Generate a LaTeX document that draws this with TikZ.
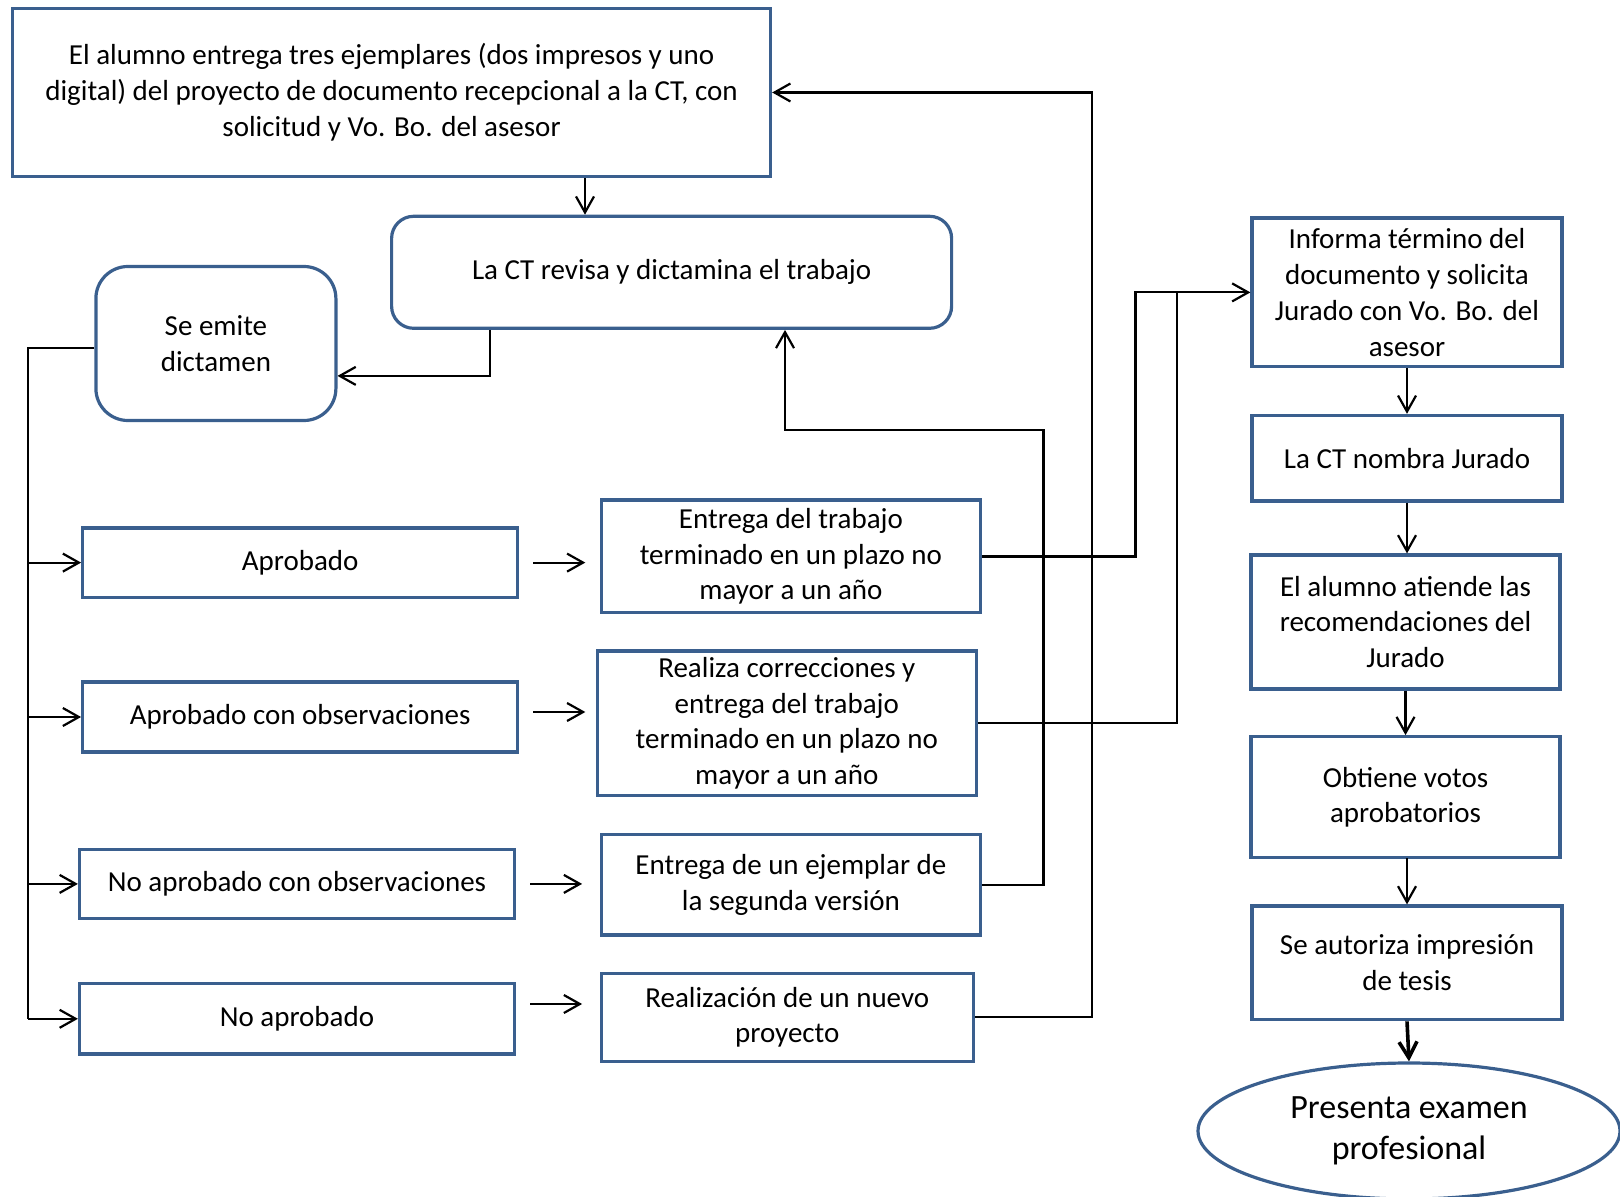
\documentclass[tikz,border=0pt]{standalone}
\usepackage{fontspec}
\setmainfont{Carlito}
\usetikzlibrary{arrows.meta,shapes.geometric}
\definecolor{boxblue}{HTML}{3A5F8E}

\begin{document}
\begin{tikzpicture}[x=0.5pt,y=-0.5pt,
    >={Straight Barb[length=8pt,width=9pt]},
    box/.style={draw=boxblue,line width=1.6pt,align=center,inner sep=2pt,
      font=\fontsize{14.5}{17.9}\selectfont},
    rbox/.style={box,rounded corners=11pt},
    link/.style={line width=1.1pt}]
    \useasboundingbox (0,0) rectangle (1620,1197);
    % left and middle
    \node[box,minimum width=379pt,minimum height=84pt] (entrega) at (391.6,92.5)
      {El alumno entrega tres ejemplares (dos impresos y uno\\digital) del proyecto de documento recepcional a la CT, con\\solicitud y Vo. Bo. del asesor};
    \node[rbox,minimum width=280pt,minimum height=56pt] (revisa) at (671.6,272.3) {La CT revisa y dictamina el trabajo};
    \node[rbox,rounded corners=16pt,minimum width=120pt,minimum height=77pt] (emite) at (215.9,343.5) {Se emite\\dictamen};
    \node[box,minimum width=217.5pt,minimum height=34.6pt] (aprob) at (300.2,562.6) {Aprobado};
    \node[box,minimum width=217.5pt,minimum height=35pt] (aprobobs) at (300.2,717) {Aprobado con observaciones};
    \node[box,minimum width=217.5pt,minimum height=34.6pt] (noaprobobs) at (297,883.9) {No aprobado con observaciones};
    \node[box,minimum width=217.5pt,minimum height=35.2pt] (noaprob) at (297,1018.8) {No aprobado};
    \node[box,minimum width=189.6pt,minimum height=56.4pt] (terminado) at (790.9,556.4) {Entrega del trabajo\\terminado en un plazo no\\mayor a un año};
    \node[box,minimum width=189.6pt,minimum height=72.3pt] (correcciones) at (786.8,723.3) {Realiza correcciones y\\entrega del trabajo\\terminado en un plazo no\\mayor a un año};
    \node[box,minimum width=189.6pt,minimum height=50.1pt] (ejemplar) at (790.9,884.9) {Entrega de un ejemplar de\\la segunda versión};
    \node[box,minimum width=186pt,minimum height=43.9pt] (nuevo) at (787.3,1017.2) {Realización de un nuevo\\proyecto};
    % right column
    \node[box,minimum width=155pt,minimum height=74.4pt] (informa) at (1407,292.4) {Informa término del\\documento y solicita\\Jurado con Vo. Bo. del\\asesor};
    \node[box,minimum width=155pt,minimum height=42.8pt] (jurado) at (1407,458.2) {La CT nombra Jurado};
    \node[box,minimum width=154.5pt,minimum height=67pt] (atiende) at (1405.5,622) {El alumno atiende las\\recomendaciones del\\Jurado};
    \node[box,minimum width=154.5pt,minimum height=60.5pt] (votos) at (1405.5,797.2) {Obtiene votos\\aprobatorios};
    \node[box,minimum width=155pt,minimum height=56.9pt] (impresion) at (1407,962.9) {Se autoriza impresión\\de tesis};
    \node[box,ellipse,inner sep=0pt,minimum width=211pt,minimum height=68pt,
      font=\fontsize{17}{20.7}\selectfont] (examen) at (1409,1131) {Presenta examen\\profesional};

    \coordinate (bus) at (28,0);
    \coordinate (j1) at (1135.5,0);
    \coordinate (j2) at (1177,0);
    \coordinate (j3) at (1043.5,430);
    \coordinate (j4) at (1092,0);

    \draw[link,->] ([xshift=96.7pt]entrega.south) -- ([xshift=96.7pt]entrega.south |- revisa.north);
    \draw[link,->] ([xshift=-91pt]revisa.south) |- ([yshift=-16.2pt]emite.east);
    \draw[link] ([yshift=-2.2pt]emite.west) -| (bus |- noaprob.west);
    \foreach \n in {aprob,aprobobs,noaprobobs,noaprob}
      \draw[link,->] (bus |- \n.west) -- (\n.west);
    % short arrows between the columns
    \draw[link,->] ([xshift=7pt]aprob.east) -- ++(26pt,0);
    \draw[link,->] ([xshift=7pt,yshift=2.5pt]aprobobs.east) -- ++(26pt,0);
    \draw[link,->] ([xshift=7pt]noaprobobs.east) -- ++(26pt,0);
    \draw[link,->] ([xshift=7pt,yshift=7.4pt]noaprob.east) -- ++(26pt,0);
    % back to the committee
    \draw[link,->] (terminado.east) -| (j1 |- informa.west) -- (informa.west);
    \draw[link] (correcciones.east) -| (j2 |- informa.west);
    \draw[link,->] (ejemplar.east) -| (j3) -| ([xshift=56.7pt]revisa.south);
    \draw[link,->] (nuevo.east) -| (j4 |- entrega.east) -- (entrega.east);
    % right column
    \draw[link,->] (informa.south) -- (informa.south |- jurado.north);
    \draw[link,->] (jurado.south) -- (jurado.south |- atiende.north);
    \draw[link,->] (atiende.south) -- (atiende.south |- votos.north);
    \draw[link,->] (votos.south) -- (votos.south -| impresion.north) -- (impresion.north);
    \draw[line width=1.8pt,->] (impresion.south) -- (examen.north);
\end{tikzpicture}
\end{document}
